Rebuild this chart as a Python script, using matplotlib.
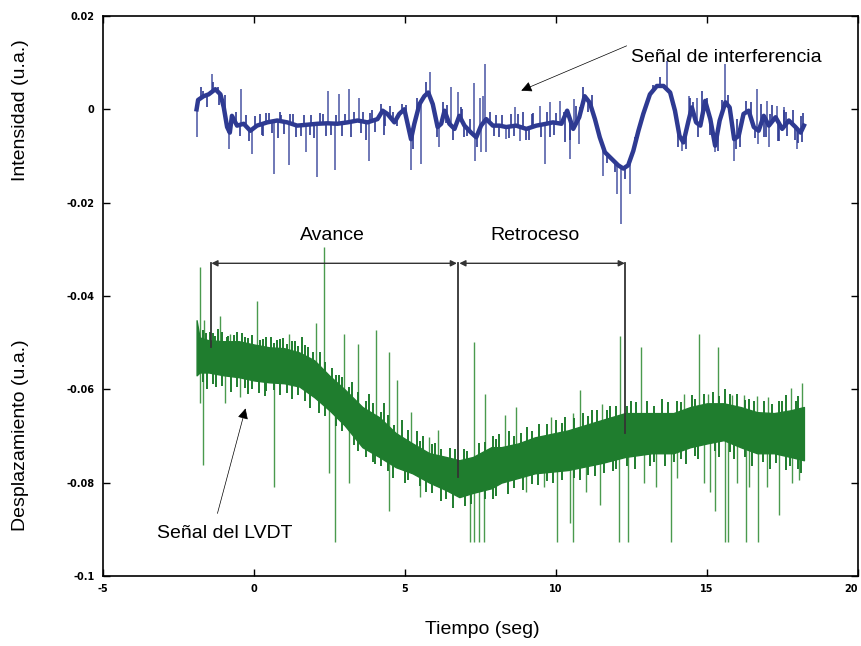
# -*- coding: utf-8 -*-
"""
Interference signal vs LVDT signal
"""

import numpy as np
import matplotlib
matplotlib.use('Agg')
import matplotlib.pyplot as plt

plt.rcParams['font.family'] = ['Liberation Sans', 'DejaVu Sans']

# --- interference signal (blue), centre of the trace ---
blue_t = [-1.90, -1.85, -1.67, -1.50, -1.28, -1.11, -1.00, -0.89, -0.80, -0.73,
          -0.56, -0.34, -0.12, 0.10, 0.44, 0.77, 1.10, 1.43, 1.77, 2.10,
          2.43, 2.76, 3.10, 3.43, 3.76, 4.09, 4.26, 4.42, 4.65, 4.81,
          4.98, 5.20, 5.31, 5.48, 5.64, 5.77, 5.92, 6.08, 6.20, 6.31,
          6.47, 6.64, 6.80, 6.97, 7.19, 7.36, 7.52, 7.69, 7.91, 8.13,
          8.35, 8.68, 9.02, 9.35, 9.68, 9.90, 10.18, 10.37, 10.57, 10.77,
          10.95, 11.12, 11.29, 11.45, 11.62, 11.84, 12.06, 12.23, 12.39, 12.56,
          12.73, 12.89, 13.11, 13.34, 13.56, 13.78, 13.94, 14.09, 14.22, 14.39,
          14.50, 14.64, 14.78, 14.94, 15.11, 15.27, 15.42, 15.61, 15.75, 15.90,
          16.05, 16.21, 16.38, 16.55, 16.71, 16.88, 17.05, 17.27, 17.49, 17.71,
          17.93, 18.10, 18.21]
blue_v = [0.0000, 0.0020, 0.0028, 0.0032, 0.0043, 0.0032, 0.0004, -0.0038, -0.0050, -0.0014,
          -0.0035, -0.0031, -0.0046, -0.0035, -0.0028, -0.0024, -0.0028, -0.0035, -0.0033, -0.0031,
          -0.0030, -0.0031, -0.0028, -0.0024, -0.0028, -0.0021, -0.0003, -0.0010, -0.0028, -0.0010,
          0.0000, -0.0064, -0.0031, 0.0011, 0.0028, 0.0036, 0.0011, -0.0038, -0.0031, -0.0003,
          -0.0031, -0.0042, -0.0014, -0.0035, -0.0050, -0.0060, -0.0035, -0.0021, -0.0035, -0.0035,
          -0.0038, -0.0035, -0.0042, -0.0035, -0.0031, -0.0028, -0.0031, -0.0003, -0.0042, -0.0017,
          0.0028, 0.0014, -0.0021, -0.0060, -0.0092, -0.0106, -0.0120, -0.0127, -0.0120, -0.0089,
          -0.0046, -0.0010, 0.0032, 0.0050, 0.0050, 0.0036, -0.0003, -0.0057, -0.0071, -0.0024,
          0.0004, -0.0028, -0.0035, 0.0018, -0.0021, -0.0078, -0.0024, 0.0015, 0.0004, -0.0064,
          -0.0057, -0.0010, -0.0003, -0.0038, -0.0046, -0.0014, -0.0035, -0.0017, -0.0042, -0.0024,
          -0.0038, -0.0050, -0.0035]

# tall spikes on the blue trace (time, tip value)
blue_spike_t = [-1.89, -1.39, -0.84, -0.43, -0.06, 0.66, 1.16, 1.71, 2.08, 2.45,
                2.67, 2.82, 3.15, 3.48, 3.81, 5.20, 5.53, 5.84, 6.14, 6.53,
                6.75, 7.28, 7.33, 7.47, 7.52, 7.58, 7.66, 7.69, 8.35, 8.63,
                8.80, 9.46, 9.63, 9.79, 10.12, 10.46, 10.59, 10.77, 11.56, 12.01,
                12.14, 12.45, 13.67, 14.17, 14.39, 14.66, 15.27, 15.61, 15.88, 16.66,
                16.70, 16.99, 17.05, 17.32, 17.54, 17.99]
blue_spike_v = [-0.0060, 0.0075, -0.0085, 0.0043, -0.0096, -0.0138, -0.0120, -0.0092, -0.0146, 0.0040,
                -0.0131, 0.0032, 0.0043, 0.0025, -0.0110, -0.0131, -0.0117, 0.0079, -0.0081, 0.0047,
                0.0036, 0.0057, -0.0110, 0.0025, -0.0092, 0.0028, 0.0097, -0.0092, -0.0064, 0.0004,
                -0.0067, 0.0008, -0.0117, 0.0015, 0.0018, -0.0106, 0.0022, -0.0074, -0.0142, -0.0181,
                -0.0246, -0.0181, 0.0104, -0.0089, 0.0028, 0.0025, -0.0092, 0.0097, -0.0110, 0.0043,
                -0.0074, 0.0018, -0.0081, 0.0008, 0.0004, -0.0085]

# short noise strokes on the blue trace
blue_fuzz_t = [-1.75, -1.55, -1.35, -1.15, -0.95, -0.75, -0.60, -0.45, -0.25, -0.15,
               0.05, 0.25, 0.40, 0.60, 0.85, 1.00, 1.20, 1.55, 1.65, 1.85,
               2.30, 2.55, 2.70, 2.90, 3.30, 3.55, 3.85, 4.00, 4.20, 4.35,
               4.60, 4.75, 5.05, 5.25, 5.40, 5.70, 5.95, 6.05, 6.25, 6.35,
               6.60, 6.85, 7.05, 7.15, 7.40, 7.80, 7.95, 8.20, 8.45, 8.75,
               9.00, 9.25, 9.50, 9.70, 9.95, 10.25, 10.45, 10.65, 10.90, 11.05,
               11.20, 11.35, 11.70, 11.95, 12.30, 12.60, 13.00, 13.20, 13.45, 13.85,
               14.05, 14.30, 14.45, 14.70, 14.85, 15.20, 15.35, 15.50, 15.70, 15.95,
               16.10, 16.30, 16.45, 16.60, 16.80, 16.95, 17.15, 17.35, 17.55, 17.65,
               17.85, 18.00, 18.18,
               0.2, 0.5, 0.9, 1.3, 1.9, 2.2, 3.0, 3.6, 3.9, 4.5,
               4.9, 6.4, 6.9, 8.0, 8.5, 8.9, 9.2, 10.0, 10.8, 14.55,
               15.0, 16.0, 17.1, 17.6, 18.1, -1.7, -1.2,
               0.3, 0.8, 1.4, 2.0, 2.4, 3.2, 3.7, 4.3, 6.95, 8.1,
               8.6, 9.1, 9.8, 10.3, 15.1, 16.9, 17.4, 17.9, 18.15]
blue_fuzz_v = [0.0048, 0.0005, 0.0058, 0.0010, 0.0030, -0.0045, -0.0005, -0.0058, -0.0012, -0.0068,
               -0.0015, -0.0055, -0.0008, -0.0050, -0.0005, -0.0052, -0.0010, -0.0058, -0.0012, -0.0056,
               -0.0010, -0.0055, -0.0012, -0.0058, -0.0006, -0.0050, -0.0008, -0.0048, 0.0012, -0.0035,
               -0.0005, -0.0035, 0.0010, -0.0085, 0.0025, 0.0058, -0.0015, -0.0060, 0.0015, -0.0030,
               -0.0065, 0.0005, -0.0058, -0.0020, -0.0080, -0.0005, -0.0058, -0.0012, -0.0062, -0.0010,
               -0.0065, -0.0008, -0.0060, -0.0005, -0.0055, -0.0005, -0.0065, 0.0008, 0.0048, -0.0005,
               0.0030, -0.0045, -0.0115, -0.0135, -0.0150, -0.0060, 0.0020, 0.0052, 0.0070, 0.0010,
               -0.0080, -0.0085, 0.0025, -0.0060, 0.0040, -0.0060, -0.0090, 0.0020, 0.0030, -0.0085,
               -0.0080, 0.0018, 0.0015, -0.0062, 0.0012, -0.0060, 0.0010, -0.0068, -0.0002, -0.0058,
               -0.0002, -0.0072, -0.0008,
               -0.0010, -0.0008, -0.0012, -0.0010, -0.0012, -0.0008, -0.0010, -0.0005, -0.0002, 0.0008,
               0.0012, 0.0010, 0.0000, -0.0012, -0.0010, -0.0005, -0.0010, -0.0008, 0.0005, 0.0015,
               0.0025, -0.0020, -0.0010, -0.0005, -0.0015, 0.0040, 0.0048,
               -0.0058, -0.0062, -0.0060, -0.0062, -0.0058, -0.0060, -0.0065, -0.0055, -0.0060, -0.0060,
               -0.0058, -0.0065, -0.0060, -0.0070, -0.0055, -0.0060, -0.0068, -0.0065, -0.0070]

# --- LVDT signal (green), top and bottom of the noise band ---
green_t = [-1.90, -1.80, -1.50, -1.00, -0.50, 0.00, 0.50, 1.00, 1.50, 2.00,
           2.50, 3.00, 3.59, 4.15, 4.70, 5.25, 5.81, 6.36, 6.80, 7.25,
           7.86, 8.19, 8.75, 9.30, 10.40, 11.51, 12.29, 13.17, 13.89, 14.45,
           15.00, 15.55, 16.11, 16.66, 17.22, 17.77, 18.21]
green_hi = [-0.0452, -0.0489, -0.0495, -0.0497, -0.0497, -0.0504, -0.0510, -0.0512, -0.0521, -0.0538,
            -0.0571, -0.0600, -0.0638, -0.0660, -0.0694, -0.0716, -0.0737, -0.0745, -0.0752, -0.0745,
            -0.0724, -0.0724, -0.0716, -0.0703, -0.0688, -0.0666, -0.0651, -0.0651, -0.0651, -0.0638,
            -0.0630, -0.0630, -0.0638, -0.0649, -0.0651, -0.0645, -0.0638]
green_lo = [-0.0570, -0.0564, -0.0564, -0.0570, -0.0574, -0.0581, -0.0585, -0.0587, -0.0594, -0.0617,
            -0.0645, -0.0677, -0.0724, -0.0745, -0.0767, -0.0780, -0.0800, -0.0816, -0.0831, -0.0822,
            -0.0812, -0.0800, -0.0790, -0.0780, -0.0773, -0.0758, -0.0745, -0.0737, -0.0737, -0.0724,
            -0.0716, -0.0709, -0.0724, -0.0737, -0.0737, -0.0745, -0.0752]

# tall spikes on the green trace (time, tip value)
green_spike_t = [-1.80, -1.66, -1.11, -0.78, 0.10, 1.16, 2.04, 2.31, 2.98, 3.46,
                 4.04, 4.48, 4.72, 5.20, 5.79, 6.09, 7.28, 7.66, 8.30, 8.66,
                 9.85, 10.57, 10.81, 11.51, 12.12, 12.81, 14.23, 14.75, 15.02, 15.37,
                 15.83, 16.22, 16.66, 17.03, 17.77, 18.16,
                 -1.69, -1.78, -0.95, -0.45, 0.65, 2.48, 2.67, 3.13, 4.47, 5.50,
                 7.15, 7.30, 7.45, 7.60, 10.05, 10.45, 10.58, 11.45, 12.08, 12.40,
                 13.80, 15.26, 15.58, 15.68, 16.30, 16.70, 17.40, 18.06, 14.0, 14.9,
                 15.1, 16.0, 16.4, 17.0, 17.8, 9.0, 9.6, 11.0, 12.9, 13.3]
green_spike_v = [-0.0339, -0.0452, -0.0442, -0.0481, -0.0410, -0.0481, -0.0459, -0.0296, -0.0481, -0.0502,
                 -0.0474, -0.0521, -0.0581, -0.0649, -0.0703, -0.0688, -0.0499, -0.0609, -0.0656, -0.0638,
                 -0.0660, -0.0650, -0.0602, -0.0631, -0.0485, -0.0510, -0.0609, -0.0481, -0.0610, -0.0510,
                 -0.0612, -0.0612, -0.0614, -0.0616, -0.0598, -0.0587,
                 -0.0762, -0.0630, -0.0630, -0.0617, -0.0810, -0.0780, -0.0927, -0.0800, -0.0860, -0.0830,
                 -0.0927, -0.0927, -0.0927, -0.0927, -0.0927, -0.0887, -0.0927, -0.0848, -0.0927, -0.0927,
                 -0.0927, -0.0860, -0.0927, -0.0927, -0.0927, -0.0927, -0.0870, -0.0795, -0.0790, -0.0800,
                 -0.0820, -0.0800, -0.0810, -0.0810, -0.0800, -0.0820, -0.0810, -0.0820, -0.0800, -0.0810]

# short noise strokes on the green band edges
green_fuzz_t = [-1.60, -1.45, -1.30, -1.20, -0.90, -0.65, -0.40, -0.20, 0.30, 0.55,
                0.75, 0.95, 1.35, 1.60, 1.80, 2.20, 2.60, 2.80, 3.25, 3.80,
                4.30, 4.90, 5.40, 5.60, 6.00, 6.50, 6.95, 7.45, 7.90, 8.10,
                8.45, 9.05, 9.45, 10.0, 10.3, 10.9, 11.2, 11.8, 12.5, 13.0,
                13.5, 14.0, 14.5, 15.2, 15.6, 16.0, 16.4, 16.9, 17.4, 17.6, 18.0,
                -1.70, -1.35, -1.05, -0.85, -0.55, -0.30, -0.05, 0.20, 0.40, 0.65,
                0.85, 1.10, 1.25, 1.45, 1.70, 1.95, 2.35, 2.70, 2.90, 3.15,
                3.45, 3.70, 3.95, 4.20, 4.45, 4.65, 5.10, 5.50, 5.90, 6.20,
                6.65, 7.05, 7.65, 8.00, 8.60, 8.85, 9.20, 9.70, 10.20, 10.60,
                11.05, 11.35, 11.70, 12.00, 12.35, 12.65, 13.25, 13.70, 14.15, 14.60,
                14.90, 15.40, 15.75, 16.25, 16.55, 17.15, 17.50, 17.95,
                -1.55, -1.25, -0.75, -0.20, 0.15, 0.35, 0.85, 1.25, 1.85, 2.15,
                3.30, 3.70, 4.00, 4.60, 5.00, 5.70, 6.20, 6.60, 7.00, 7.90,
                8.40, 8.90, 9.40, 9.90, 10.8, 11.3, 11.9, 12.6, 13.1, 13.6,
                14.3, 14.7, 15.4, 15.9, 16.5, 17.1, 17.6, 18.1,
                -1.70, -1.35, -1.05, -0.55, -0.30, -0.05, 0.40, 0.65, 1.10, 1.45,
                1.70, 2.35, 2.70, 2.90, 3.45, 3.95, 4.20, 4.45, 5.10, 5.50,
                5.90, 6.35, 7.20, 7.65, 8.00, 8.60, 9.20, 9.70, 10.20, 10.60,
                11.05, 11.60, 12.00, 12.35, 13.25, 13.90, 14.15, 14.60, 15.25, 15.75,
                16.25, 16.85, 17.30, 17.75, 18.00]
green_fuzz_v = [-0.0480, -0.0478, -0.0485, -0.0470, -0.0488, -0.0483, -0.0480, -0.0490, -0.0492, -0.0488,
                -0.0495, -0.0490, -0.0497, -0.0488, -0.0510, -0.0520, -0.0555, -0.0570, -0.0585, -0.0610,
                -0.0630, -0.0665, -0.0690, -0.0700, -0.0715, -0.0725, -0.0728, -0.0715, -0.0700, -0.0695,
                -0.0690, -0.0680, -0.0675, -0.0665, -0.0660, -0.0650, -0.0645, -0.0635, -0.0625, -0.0625,
                -0.0620, -0.0625, -0.0612, -0.0605, -0.0600, -0.0610, -0.0620, -0.0625, -0.0625, -0.0612, -0.0615,
                -0.0472, -0.0480, -0.0477, -0.0485, -0.0478, -0.0488, -0.0484, -0.0495, -0.0489, -0.0500,
                -0.0492, -0.0502, -0.0496, -0.0508, -0.0505, -0.0520, -0.0541, -0.0570, -0.0574, -0.0595,
                -0.0605, -0.0625, -0.0630, -0.0648, -0.0655, -0.0676, -0.0688, -0.0710, -0.0718, -0.0728,
                -0.0728, -0.0733, -0.0712, -0.0706, -0.0700, -0.0694, -0.0690, -0.0675, -0.0672, -0.0662,
                -0.0658, -0.0645, -0.0645, -0.0635, -0.0636, -0.0628, -0.0636, -0.0628, -0.0628, -0.0620,
                -0.0610, -0.0615, -0.0610, -0.0622, -0.0625, -0.0632, -0.0625, -0.0625,
                -0.0600, -0.0595, -0.0605, -0.0610, -0.0608, -0.0615, -0.0612, -0.0620, -0.0640, -0.0650,
                -0.0720, -0.0745, -0.0760, -0.0790, -0.0800, -0.0820, -0.0840, -0.0855, -0.0850, -0.0835,
                -0.0825, -0.0815, -0.0805, -0.0800, -0.0795, -0.0785, -0.0775, -0.0770, -0.0765, -0.0765,
                -0.0760, -0.0750, -0.0745, -0.0750, -0.0765, -0.0770, -0.0772, -0.0780,
                -0.0585, -0.0588, -0.0592, -0.0594, -0.0598, -0.0600, -0.0604, -0.0602, -0.0608, -0.0612,
                -0.0625, -0.0658, -0.0678, -0.0690, -0.0733, -0.0756, -0.0765, -0.0776, -0.0795, -0.0808,
                -0.0822, -0.0834, -0.0845, -0.0836, -0.0828, -0.0812, -0.0802, -0.0796, -0.0794, -0.0790,
                -0.0784, -0.0780, -0.0770, -0.0764, -0.0756, -0.0756, -0.0750, -0.0742, -0.0732, -0.0735,
                -0.0746, -0.0755, -0.0757, -0.0764, -0.0770]

# avance / retroceso marks (time) and where the vertical lines end
t_marks = [-1.41, 6.76, 12.28]
v_marks = [-0.0510, -0.0788, -0.0694]
v_arrow = -0.0330

x_ticks = [-5, 0, 5, 10, 15, 20]
y_ticks = [-0.1, -0.08, -0.06, -0.04, -0.02, 0, 0.02]
y_tick_labels = ['-0.1', '-0.08', '-0.06', '-0.04', '-0.02', '0', '0.02']

blue = '#2e3a92'
blue_sp = '#4853a3'
green = '#1f7d2e'
green_sp = '#4a9a4e'
dark = '#333333'

fig = plt.figure(figsize=(8.61, 6.46), dpi=100)
ax = fig.add_axes([0.1196, 0.1084, 0.8769, 0.8669])

# blue trace
base = np.interp(blue_spike_t, blue_t, blue_v)
ax.vlines(blue_spike_t, base, blue_spike_v, color=blue_sp, lw=1.1, zorder=2)
base = np.interp(blue_fuzz_t, blue_t, blue_v)
ax.vlines(blue_fuzz_t, base, blue_fuzz_v, color=blue, lw=1.2, zorder=3)
ax.plot(blue_t, blue_v, color=blue, lw=3.2, zorder=3)

# green trace
g_mid = (np.array(green_hi) + np.array(green_lo)) / 2
base = np.interp(green_spike_t, green_t, g_mid)
ax.vlines(green_spike_t, base, green_spike_v, color=green_sp, lw=1.0, zorder=2)
base = np.interp(green_fuzz_t, green_t, g_mid)
ax.vlines(green_fuzz_t, base, green_fuzz_v, color=green, lw=1.4, zorder=3)
ax.fill_between(green_t, green_lo, green_hi, color=green, lw=1.0, edgecolor=green, zorder=3)

# avance / retroceso arrows
for t, v in zip(t_marks, v_marks):
    ax.plot([t, t], [v_arrow, v], color=dark, lw=1.3, zorder=4)
arrow_kw = dict(arrowstyle='<|-|>', color=dark, lw=1.0, mutation_scale=9,
                shrinkA=0, shrinkB=0)
ax.annotate('', xy=(t_marks[0], v_arrow), xytext=(t_marks[1] - 0.04, v_arrow),
            arrowprops=arrow_kw, zorder=4)
ax.annotate('', xy=(t_marks[1] + 0.04, v_arrow), xytext=(t_marks[2], v_arrow),
            arrowprops=arrow_kw, zorder=4)
ax.text(2.61, -0.0271, 'Avance', ha='center', va='center', fontsize=14)
ax.text(9.29, -0.0271, 'Retroceso', ha='center', va='center', fontsize=14)

# signal labels
ax.text(12.5, 0.0112, 'Señal de interferencia', ha='left', va='center', fontsize=14)
ax.annotate('', xy=(8.85, 0.0040), xytext=(12.34, 0.0136),
            arrowprops=dict(arrowstyle='-|>', color='black', lw=0.5,
                            mutation_scale=16, shrinkA=0, shrinkB=0))
ax.text(-3.21, -0.0908, 'Señal del LVDT', ha='left', va='center', fontsize=14)
ax.annotate('', xy=(-0.28, -0.0641), xytext=(-1.21, -0.0866),
            arrowprops=dict(arrowstyle='-|>', color='black', lw=0.5,
                            mutation_scale=16, shrinkA=0, shrinkB=0))

ax.set_xlim(-5, 20)
ax.set_ylim(-0.1, 0.02)
ax.set_xticks(x_ticks)
ax.set_xticklabels([str(x) for x in x_ticks], fontsize=7, fontweight='bold',
                   family='DejaVu Sans')
ax.get_xticklabels()[-1].set_horizontalalignment('right')
ax.set_yticks(y_ticks)
ax.set_yticklabels(y_tick_labels, fontsize=7, fontweight='bold', family='DejaVu Sans')
ax.tick_params(direction='in', length=5, width=1, top=True, right=True, pad=6)
for s in ax.spines.values():
    s.set_linewidth(1.2)

fig.text(0.024, 0.83, 'Intensidad (u.a.)', rotation=90, ha='center', va='center', fontsize=14)
fig.text(0.024, 0.327, 'Desplazamiento (u.a.)', rotation=90, ha='center', va='center', fontsize=14)
fig.text(0.56, 0.025, 'Tiempo (seg)', ha='center', va='center', fontsize=14)

plt.savefig('out.png', dpi=100)
